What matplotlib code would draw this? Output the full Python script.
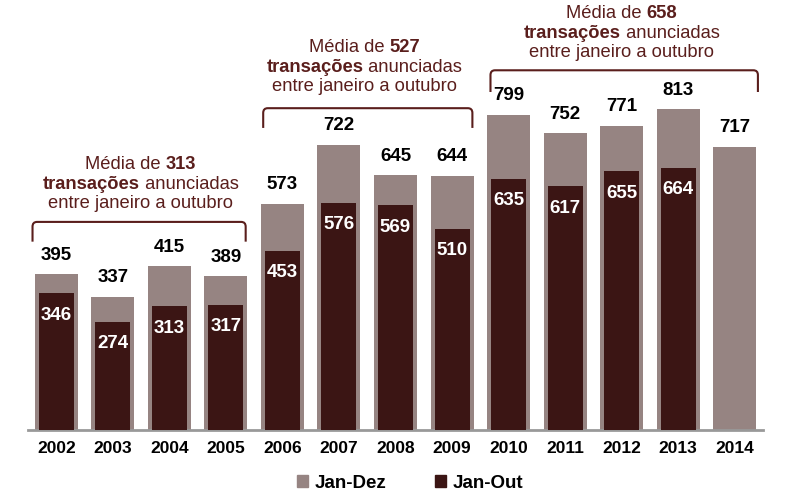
import matplotlib
matplotlib.use("Agg")
import matplotlib.pyplot as plt
from matplotlib.patches import Patch
from matplotlib.path import Path
from matplotlib.patches import PathPatch
from matplotlib.offsetbox import TextArea, HPacker, VPacker, AnnotationBbox

plt.rcParams['font.family'] = ['Liberation Sans', 'DejaVu Sans']

years = ['2002', '2003', '2004', '2005', '2006', '2007', '2008', '2009',
         '2010', '2011', '2012', '2013', '2014']
jan_dez = [395, 337, 415, 389, 573, 722, 645, 644, 799, 752, 771, 813, 717]
jan_out = [346, 274, 313, 317, 453, 576, 569, 510, 635, 617, 655, 664, None]

groups = [  # (first index, last index, average)
    (0, 3, 313),
    (4, 7, 527),
    (8, 12, 658),
]

C_DEZ = '#968482'
C_OUT = '#3b1514'
C_TXT = '#5a1e1c'

fig = plt.figure(figsize=(7.85, 5.0), dpi=100)
ax = fig.add_axes([28/785, 70/500, 735/785, 430/500])
x = list(range(len(years)))

ax.bar(x, jan_dez, width=0.76, color=C_DEZ, zorder=2)
xo = [i for i, v in enumerate(jan_out) if v is not None]
vo = [v for v in jan_out if v is not None]
ax.bar(xo, vo, width=0.62, color=C_OUT, zorder=3)

for i, v in enumerate(jan_dez):
    ax.text(i, v + 48, str(v), ha='center', va='center', fontsize=13.5,
            fontweight='bold', color='black')
for i, v in zip(xo, vo):
    ax.text(i, v - 55, str(v), ha='center', va='center', fontsize=13.5,
            fontweight='bold', color='white', zorder=4)

ax.set_xlim(-0.5, 12.5)
ax.set_ylim(0, 1089)
ax.set_yticks([])
ax.set_xticks(x)
ax.set_xticklabels(years, fontsize=12.5, fontweight='bold')
ax.tick_params(axis='x', length=0, pad=8)
for s in ['top', 'right', 'left']:
    ax.spines[s].set_visible(False)
ax.spines['bottom'].set_color('#999999')
ax.spines['bottom'].set_linewidth(2)

# brackets and annotations
brk = [  # x left, x right, y top, drop, text x, text y
    (-0.42, 3.35, 527, 50, 1.49, 623),
    (3.66, 7.36, 815, 50, 5.45, 919),
    (7.68, 12.41, 911, 55, 10.0, 1005),
]
for (g0, g1, avg), (xl, xr, yt, d, tx, ty) in zip(groups, brk):
    r_x = 0.08
    r_y = 12
    verts = [(xl, yt - d), (xl, yt - r_y), (xl, yt), (xl + r_x, yt),
             (xr - r_x, yt), (xr, yt), (xr, yt - r_y), (xr, yt - d)]
    codes = [Path.MOVETO, Path.LINETO, Path.CURVE3, Path.CURVE3,
             Path.LINETO, Path.CURVE3, Path.CURVE3, Path.LINETO]
    ax.add_patch(PathPatch(Path(verts, codes), fill=False, edgecolor=C_TXT,
                           lw=1.5, clip_on=False))
    fs = 13.2
    l1 = HPacker(children=[TextArea('Média de ', textprops=dict(fontsize=fs, color=C_TXT)),
                           TextArea(str(avg), textprops=dict(fontsize=fs, color=C_TXT, fontweight='bold'))],
                 sep=0, pad=0, align='baseline')
    l2 = HPacker(children=[TextArea('transações', textprops=dict(fontsize=fs, color=C_TXT, fontweight='bold')),
                           TextArea(' anunciadas', textprops=dict(fontsize=fs, color=C_TXT))],
                 sep=0, pad=0, align='baseline')
    l3 = TextArea('entre janeiro a outubro', textprops=dict(fontsize=fs, color=C_TXT))
    box = VPacker(children=[l1, l2, l3], sep=2, pad=0, align='center')
    ab = AnnotationBbox(box, (tx, ty), xycoords='data', frameon=False,
                        box_alignment=(0.5, 0.5), annotation_clip=False)
    ax.add_artist(ab)

handles = [Patch(color=C_DEZ, label='Jan-Dez'), Patch(color=C_OUT, label='Jan-Out')]
leg = fig.legend(handles=handles, loc='center', bbox_to_anchor=(410/785, 1 - 483/500),
                 ncol=2, frameon=False, handlelength=0.6, handleheight=0.6,
                 handletextpad=0.35, columnspacing=2.6,
                 prop=dict(size=13.5, weight='bold'))

fig.savefig('out.png', dpi=100)
